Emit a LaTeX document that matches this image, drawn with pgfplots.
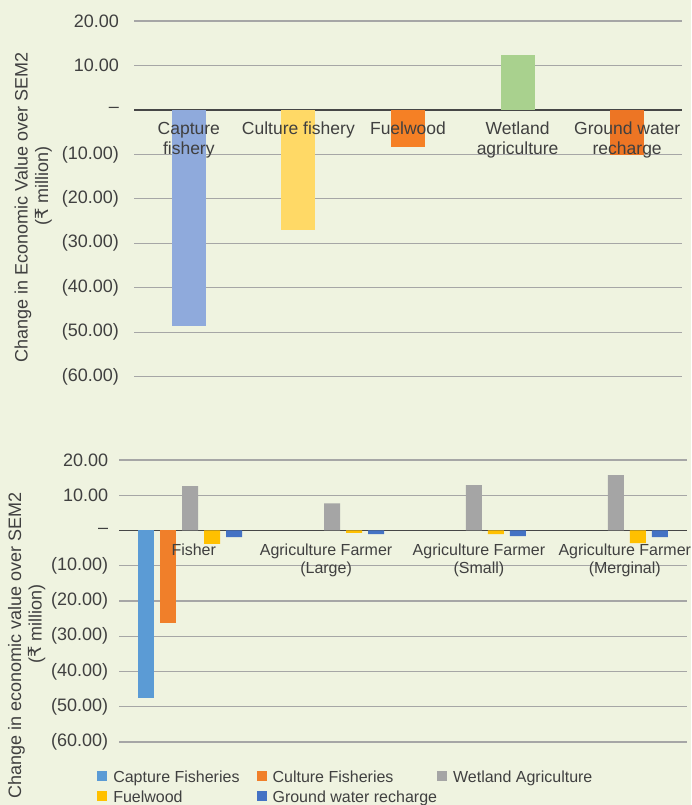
\documentclass[border=0pt]{standalone}
\usepackage{pgfplots}
\pgfplotsset{compat=1.18}
\usepackage{fontspec}
\setmainfont{Liberation Sans}
\newfontfamily\dv{DejaVu Sans}
\definecolor{bg}{RGB}{239,243,224}
\definecolor{txt}{RGB}{64,64,64}
\definecolor{gridc}{RGB}{166,166,166}
\definecolor{zeroc}{RGB}{70,70,70}
\definecolor{tA}{HTML}{8FAADC}
\definecolor{tB}{HTML}{FFD966}
\definecolor{tC}{HTML}{F58025}
\definecolor{tD}{HTML}{A9D18E}
\definecolor{tE}{HTML}{ED7524}
\definecolor{bA}{HTML}{5B9BD5}
\definecolor{bB}{HTML}{F07F2A}
\definecolor{bC}{HTML}{A5A5A5}
\definecolor{bD}{HTML}{FFC000}
\definecolor{bE}{HTML}{4472C4}
\pgfplotsset{
  layers/mine/.define layer set={axis background,axis grid,axis ticks,axis lines,pre main,main,axis tick labels,axis descriptions,axis foreground}{
    grid style={/pgfplots/on layer=axis grid},
    tick style={/pgfplots/on layer=axis ticks},
    axis line style={/pgfplots/on layer=axis lines},
    label style={/pgfplots/on layer=axis descriptions},
    legend style={/pgfplots/on layer=axis descriptions},
    title style={/pgfplots/on layer=axis descriptions},
    colorbar style={/pgfplots/on layer=axis descriptions},
    ticklabel style={/pgfplots/on layer=axis tick labels},
    axis background@ style={/pgfplots/on layer=axis background},
    3d box foreground style={/pgfplots/on layer=axis foreground},
  },
  sqlegend/.style={legend image code/.code={\fill[##1] (0pt,-3.5pt) rectangle (10pt,6.5pt);}},
  common/.style={
    set layers=mine,
    scale only axis,
    axis x line*=middle,
    axis y line*=left,
    hide obscured x ticks=false,
    hide obscured y ticks=false,
    x axis line style={-, draw=zeroc, line width=1.3pt},
    y axis line style={draw=none},
    major tick length=0pt,
    ymajorgrids,
    grid style={draw=gridc, line width=1.2pt},
    ymin=-60, ymax=20,
    ytick={-60,-50,-40,-30,-20,-10,0,10,20},
    yticklabels={(60.00),(50.00),(40.00),(30.00),(20.00),(10.00),–,10.00,20.00},
    yticklabel style={font=\fontsize{18}{20}\selectfont, text=txt, anchor=east, inner sep=0pt},
    xticklabel style={text=txt, anchor=north, inner sep=0pt, align=center},
    every axis y label/.style={rotate=90, anchor=center, font=\fontsize{18}{20.5}\selectfont, text=txt, align=center},
    clip=false,
  },
}
\begin{document}
\begin{tikzpicture}
% ---------- top panel ----------
\begin{axis}[common,
  at={(134pt,428.3pt)}, anchor=south west,
  width=548pt, height=355.7pt,
  xmin=-0.5, xmax=4.5,
  xtick={0,1,2,3,4},
  xticklabels={{Capture\\fishery},{Culture fishery},{Fuelwood},{Wetland\\agriculture},{Ground water\\recharge}},
  xticklabel style={font=\fontsize{17.5}{20}\selectfont, yshift=-12pt},
  yticklabel style={xshift=-15pt},
  ylabel={Change in Economic Value over SEM2\\\hspace*{43pt}({\dv ₹} million)},
  ylabel style={at={(axis description cs:-0.184,0.4757)}},
]
\begin{pgfonlayer}{axis background}
\fill[bg] ([xshift=-134pt,yshift=-428.3pt]rel axis cs:0,0) rectangle ([xshift=557pt,yshift=376.7pt]rel axis cs:0,0);
\end{pgfonlayer}
\addplot[ybar, bar width=34pt, bar shift=0pt, fill=tA, draw=none] coordinates {(0,-48.5)};
\addplot[ybar, bar width=34pt, bar shift=0pt, fill=tB, draw=none] coordinates {(1,-27.1)};
\addplot[ybar, bar width=34pt, bar shift=0pt, fill=tC, draw=none] coordinates {(2,-8.4)};
\addplot[ybar, bar width=34pt, bar shift=0pt, fill=tD, draw=none] coordinates {(3,12.3)};
\addplot[ybar, bar width=34pt, bar shift=0pt, fill=tE, draw=none] coordinates {(4,-10.2)};
\end{axis}
% ---------- bottom panel ----------
\begin{axis}[common,
  at={(119.3pt,63pt)}, anchor=south west,
  width=567.4pt, height=282pt,
  xmin=-0.5, xmax=3.5,
  xtick={0,1,2,3},
  xticklabels={{\hspace*{7pt}Fisher},{\hspace*{-12pt}Agriculture Farmer\\\hspace*{-12pt}(Large)},{\hspace*{10pt}Agriculture Farmer\\\hspace*{10pt}(Small)},{\hspace*{18pt}Agriculture Farmer\\\hspace*{18pt}(Merginal)}},
  xticklabel style={font=\fontsize{16}{18}\selectfont, yshift=-13pt},
  yticklabel style={xshift=-11pt},
  ylabel={Change in economic value over SEM2\\\hspace*{43pt}({\dv ₹} million)},
  ylabel style={at={(axis description cs:-0.163,0.342)}},
  ybar=6pt, bar width=16pt,
  legend columns=3,
  legend cell align=left,
  legend style={draw=none, fill=none, inner sep=0pt, outer sep=0pt,
    at={(axis description cs:-0.0388,-0.1028)}, anchor=north west,
    font=\fontsize{16}{18}\selectfont, text=txt,
    row sep=7pt,
    nodes={inner sep=0pt},
    /tikz/column 1/.append style={column sep=6pt},
    /tikz/column 2/.append style={column sep=17pt},
    /tikz/column 3/.append style={column sep=6pt},
    /tikz/column 4/.append style={column sep=0pt},
    /tikz/column 5/.append style={column sep=6pt},
  },
]
\addplot[fill=bA, draw=none, sqlegend] coordinates {(0,-47.5)};
\addplot[fill=bB, draw=none, sqlegend] coordinates {(0,-26.2)};
\addplot[fill=bC, draw=none, sqlegend] coordinates {(0,12.6) (1,7.7) (2,12.9) (3,15.7)};
\addplot[fill=bD, draw=none, sqlegend] coordinates {(0,-3.8) (1,-0.7) (2,-1.0) (3,-3.6)};
\addplot[fill=bE, draw=none, sqlegend] coordinates {(0,-1.9) (1,-1.0) (2,-1.6) (3,-1.9)};
\legend{Capture Fisheries, Culture Fisheries, Wetland Agriculture, Fuelwood, Ground water recharge}
\end{axis}
\pgfresetboundingbox
\path[use as bounding box] (0,0) rectangle (691pt,805pt);
\end{tikzpicture}
\end{document}
